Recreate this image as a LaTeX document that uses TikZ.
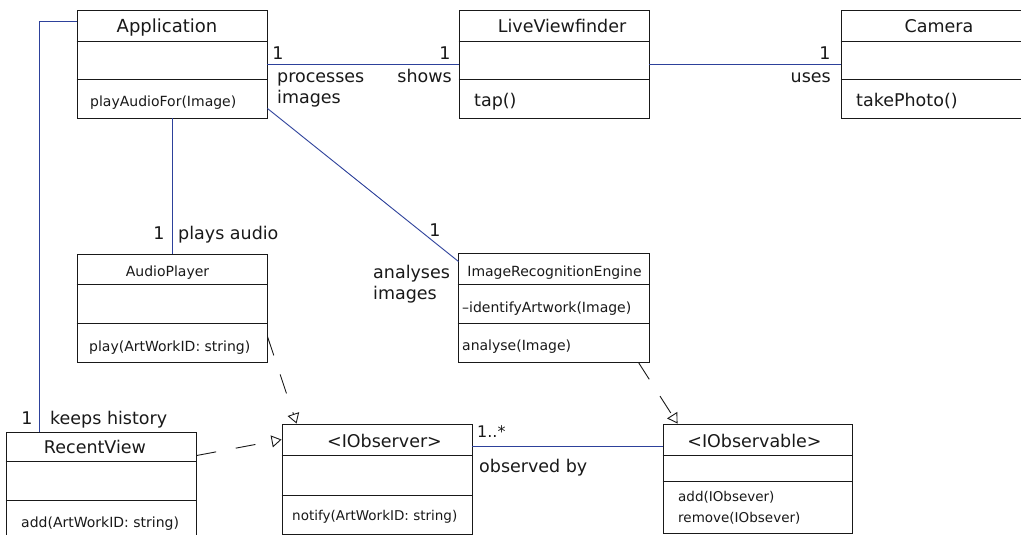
\documentclass[tikz,border=0pt]{standalone}
\usepackage{fontspec}
\setmainfont{DejaVu Sans}
\usetikzlibrary{calc,arrows.meta}
\definecolor{assocblue}{RGB}{45,65,155}
\definecolor{inkgrey}{RGB}{25,25,25}
\newcommand{\fbig}{\fontsize{17.5}{20}\selectfont}
\newcommand{\fsmall}{\fontsize{14}{16}\selectfont}
\newcommand{\fxsmall}{\fontsize{13.5}{16}\selectfont}
\begin{document}
\begin{tikzpicture}[x=1pt,y=-1pt,
  cls/.style={draw=inkgrey, line width=0.9pt, inner sep=0pt, fill=white},
  divider/.style={draw=inkgrey, line width=1.7pt},
  txt/.style={inner sep=0pt, text depth=0pt, text=inkgrey},
  big/.style={txt, font=\fbig, text height=12.6pt},
  small/.style={txt, font=\fsmall, text height=10.1pt},
  xsmall/.style={txt, font=\fxsmall, text height=9.7pt},
  assoc/.style={draw=assocblue, line width=0.9pt},
  realize/.style={draw=inkgrey, line width=0.9pt, dash pattern=on 20pt off 20pt,
     -{Triangle[open, length=10pt, width=12pt, line width=0.9pt]}}
]
\useasboundingbox (0,0) rectangle (1021,535);
\clip (0,0) rectangle (1021,535);
\fill[white] (0,0) rectangle (1021,535);

% ---------- class boxes ----------
\node[cls, minimum width=190pt, minimum height=108pt] (app) at (172,64) {};
\node[cls, minimum width=190pt, minimum height=108pt] (lvf) at (554,64) {};
\node[cls, minimum width=190pt, minimum height=108pt] (cam) at (936,64) {};
\node[cls, minimum width=190pt, minimum height=108pt] (audio) at (172,308) {};
\node[cls, minimum width=191pt, minimum height=109pt] (ire) at (553.5,307.5) {};
\node[cls, minimum width=190pt, minimum height=113pt] (recent) at (101,488.5) {};
\node[cls, minimum width=190pt, minimum height=110pt] (obs) at (377,479) {};
\node[cls, minimum width=189pt, minimum height=109pt] (obsable) at (757.5,478.5) {};

% ---------- compartment dividers ----------
\foreach \n/\a/\b in {app/32/70, lvf/32/70, cam/32/70, audio/31/70, ire/32/71,
                      recent/30/69, obs/32/72, obsable/32/58}{
  \draw[divider] ($(\n.north west)+(0,\a)$) -- ($(\n.north east)+(0,\a)$);
  \draw[divider] ($(\n.north west)+(0,\b)$) -- ($(\n.north east)+(0,\b)$);
}

% ---------- class texts ----------
\node[txt, font=\fontsize{18}{20}\selectfont, text height=13pt] (appT) at (167,26) {Application};
\node[small, anchor=west] (appM) at (90,101) {playAudioFor(Image)};
\node[big] (lvfT) at (562,26) {LiveViewfinder};
\node[big, anchor=west] (lvfM) at (474,100) {tap()};
\node[big] (camT) at (939,26) {Camera};
\node[big, anchor=west] (camM) at (856,100) {takePhoto()};
\node[small] (audioT) at (167.5,271) {AudioPlayer};
\node[small, anchor=west] (audioM) at (89,346) {play(ArtWorkID: string)};
\node[small] (ireT) at (554.5,271) {ImageRecognitionEngine};
\node[small, anchor=west] (ireA) at (462,307) {–identifyArtwork(Image)};
\node[small, anchor=west] (ireM) at (462,345) {analyse(Image)};
\node[big] (recentT) at (95,447) {RecentView};
\node[small, anchor=west] (recentM) at (21,522) {add(ArtWorkID: string)};
\node[big] (obsT) at (384.5,441) {<IObserver>};
\node[xsmall, anchor=west] (obsM) at (292,516) {notify(ArtWorkID: string)};
\node[big] (obsableT) at (754.5,441) {<IObservable>};
\node[xsmall, anchor=west] (obsableM1) at (678,497) {add(IObsever)};
\node[xsmall, anchor=west] (obsableM2) at (678,518) {remove(IObsever)};

% ---------- associations ----------
\draw[assoc] (app.east) -- (lvf.west);
\draw[assoc] (lvf.east) -- (cam.west);
\draw[assoc] (app.south) -- (audio.north);
\draw[assoc] ($(app.south east)+(0,-10)$) -- ($(ire.north west)+(1,9)$);
\draw[assoc] ($(app.north west)+(0,12)$) -| ($(recent.north west)+(34,0)$);
\draw[assoc] ($(obs.north east)+(0,23)$) -- ($(obsable.north west)+(0,23)$);

% ---------- realizations ----------
\draw[realize] ($(audio.south east)+(0,-26)$) -- ($(obs.north west)+(15,0)$);
\draw[realize] ($(ire.south east)+(-11,0)$) -- ($(obsable.north west)+(15,0)$);
\draw[realize] ($(recent.north east)+(0,24)$) -- ($(obs.north west)+(0,16)$);

% ---------- association labels ----------
\node[big] (l1) at (278,53) {1};
\node[big, anchor=west] (l2) at (277,76) {processes};
\node[big, anchor=west] (l3) at (277,97) {images};
\node[big] (l4) at (445,53) {1};
\node[big, anchor=east] (l5) at (452,76) {shows};
\node[big] (l6) at (825,53) {1};
\node[big, anchor=east] (l7) at (831,76) {uses};
\node[big] (l8) at (159,233) {1};
\node[big, anchor=west] (l9) at (178,233) {plays audio};
\node[big] (l10) at (435,230) {1};
\node[big, anchor=west] (l11) at (373,272) {analyses};
\node[big, anchor=west] (l12) at (373,293) {images};
\node[big] (l13) at (27,418) {1};
\node[big, anchor=west] (l14) at (50,418) {keeps history};
\node[txt, font=\fontsize{16}{18}\selectfont, text height=11.5pt, anchor=west] (l15) at (477,432) {1..*};
\node[big, anchor=west] (l16) at (479,466) {observed by};
\end{tikzpicture}
\end{document}
